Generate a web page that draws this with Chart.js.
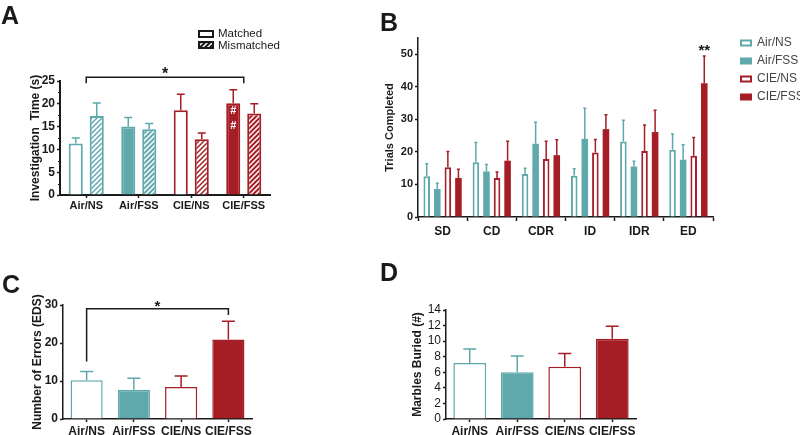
<!DOCTYPE html>
<html>
<head>
<meta charset="utf-8">
<script src="https://cdn.jsdelivr.net/npm/chart.js@4.4.0/dist/chart.umd.min.js"></script>
<style>
body { margin: 0; background: #fff; }
#wrap { position: relative; width: 800px; height: 435px; overflow: hidden; font-family: "Liberation Sans", Arial, sans-serif; }
canvas { position: absolute; left: 0; top: 0; }
.tag { position: absolute; font-weight: bold; font-size: 25px; line-height: 1; color: #1a1a1a; }
</style>
</head>
<body>
<div id="wrap">
  <canvas id="chartA" width="800" height="435"></canvas>
  <canvas id="chartB" width="800" height="435"></canvas>
  <canvas id="chartC" width="800" height="435"></canvas>
  <canvas id="chartD" width="800" height="435"></canvas>
  <div class="tag" style="left:1px;top:3px">A</div>
  <div class="tag" style="left:380px;top:10px">B</div>
  <div class="tag" style="left:2px;top:272px">C</div>
  <div class="tag" style="left:380px;top:260px">D</div>
</div>
<script>
var FONT = '"Liberation Sans", Arial, sans-serif';
var teal = '#5fa8ac';
var red = '#a51d25';

var groups = ['Air/NS', 'Air/FSS', 'CIE/NS', 'CIE/FSS'];

// A - investigation time
var matchedMean = [11.3, 15.0, 18.6, 20.1];
var matchedSem = [1.2, 2.0, 3.5, 3.0];
var mismatchedMean = [17.3, 14.4, 12.2, 17.9];
var mismatchedSem = [2.9, 1.3, 1.4, 2.1];

// B - trials completed per stage
var stages = ['SD', 'CD', 'CDR', 'ID', 'IDR', 'ED'];
var airNS = [12.5, 16.8, 13.2, 12.7, 23.2, 20.7];
var airNSSem = [3.9, 6.1, 1.8, 2.1, 6.5, 4.8];
var airFSS = [8.6, 14.0, 22.5, 24.0, 15.5, 17.6];
var airFSSSem = [1.8, 2.1, 6.6, 9.4, 1.6, 4.6];
var cieNS = [15.3, 12.0, 17.8, 19.8, 20.3, 18.8];
var cieNSSem = [4.8, 1.8, 5.5, 4.0, 8.0, 5.6];
var cieFSS = [12.0, 17.3, 19.0, 27.0, 26.1, 41.1];
var cieFSSSem = [2.7, 6.0, 4.7, 4.4, 6.7, 8.4];

// C - errors (EDS)
var errorsEDS = [10.2, 7.7, 8.4, 20.9];
var errorsSem = [2.3, 3.0, 2.9, 4.8];

// D - marbles buried
var marbles = [7.2, 6.0, 6.7, 10.3];
var marblesSem = [1.8, 2.1, 1.7, 1.6];

var groupColor = [teal, teal, red, red];
var groupFill = ['#fff', teal, '#fff', red];

function hatch(bg, fg) {
    var c = document.createElement('canvas');
    c.width = 5; c.height = 5;
    var g = c.getContext('2d');
    g.fillStyle = bg;
    g.fillRect(0, 0, 5, 5);
    g.strokeStyle = fg;
    g.lineWidth = 1.5;
    g.beginPath();
    g.moveTo(-1, 6); g.lineTo(6, -1);
    g.moveTo(-1, 1); g.lineTo(1, -1);
    g.moveTo(4, 6); g.lineTo(6, 4);
    g.stroke();
    return g.createPattern(c, 'repeat');
}
var groupHatch = [hatch('#fff', teal), hatch(teal, '#fff'), hatch('#fff', red), hatch(red, '#fff')];

var errorBars = {
    id: 'errorBars',
    afterDatasetsDraw: function(chart, args, opts) {
        var ctx = chart.ctx, y = chart.scales.y;
        chart.data.datasets.forEach(function(ds, i) {
            if (!ds.sem) return;
            chart.getDatasetMeta(i).data.forEach(function(bar, j) {
                var top = y.getPixelForValue(ds.data[j] + ds.sem[j]);
                ctx.save();
                ctx.strokeStyle = Array.isArray(ds.borderColor) ? ds.borderColor[j] : ds.borderColor;
                ctx.lineWidth = opts.width || 1.5;
                ctx.beginPath();
                ctx.moveTo(bar.x, bar.y);
                ctx.lineTo(bar.x, top);
                ctx.moveTo(bar.x - opts.cap / 2, top);
                ctx.lineTo(bar.x + opts.cap / 2, top);
                ctx.stroke();
                ctx.restore();
            });
        });
    }
};

function star(ctx, text, x, yc, size) {
    ctx.save();
    ctx.fillStyle = '#1a1a1a';
    ctx.font = 'bold ' + size + 'px ' + FONT;
    ctx.textAlign = 'center';
    ctx.textBaseline = 'alphabetic';
    ctx.fillText(text, x, yc + size * 0.55);
    ctx.restore();
}

function bracket(ctx, x0, y0, x1, y1, yt) {
    ctx.save();
    ctx.strokeStyle = '#1a1a1a';
    ctx.lineWidth = 1.5;
    ctx.beginPath();
    ctx.moveTo(x0, y0);
    ctx.lineTo(x0, yt);
    ctx.lineTo(x1, yt);
    ctx.lineTo(x1, y1);
    ctx.stroke();
    ctx.restore();
}

function axes(o) {
    return {
        x: {
            grid: { display: true, drawOnChartArea: false, offset: o.gridOffset, tickLength: o.xTick, color: '#1a1a1a', tickWidth: 1.5 },
            border: { display: true, color: '#1a1a1a', width: o.border },
            ticks: { color: '#1a1a1a', padding: o.xPad, maxRotation: 0, autoSkip: false,
                     font: { family: FONT, size: o.xFont, weight: 'bold' } },
            afterFit: function(s) { s.height = o.xH; }
        },
        y: {
            min: 0, max: o.max,
            grid: { display: true, drawOnChartArea: false, tickLength: 3, color: '#1a1a1a', tickWidth: 1.5 },
            border: { display: true, color: '#1a1a1a', width: o.border },
            ticks: { stepSize: o.step, autoSkip: false, color: '#1a1a1a', padding: 2,
                     font: { family: FONT, size: o.yFont, weight: o.yWeight || 'bold' } },
            title: { display: true, text: o.title, color: '#1a1a1a', padding: { top: 4, bottom: 4 },
                     font: { family: FONT, size: o.titleFont, weight: 'bold' } },
            afterBuildTicks: function(s) { s.ticks = s.ticks.filter(function(t) { return t.value % o.step === 0; }); },
            afterFit: function(s) { s.width = o.yW; }
        }
    };
}

var common = {
    responsive: false,
    animation: false,
    devicePixelRatio: 1,
    events: []
};

// ---------- A ----------
var annotA = {
    id: 'annotA',
    afterDraw: function(chart) {
        var ctx = chart.ctx, x = chart.scales.x, y = chart.scales.y;
        var x0 = x.getPixelForValue(0), x1 = x.getPixelForValue(3);
        bracket(ctx, x0, y.getPixelForValue(24.5), x1, y.getPixelForValue(24.5), y.getPixelForValue(25.8));
        star(ctx, '*', (x0 + x1) / 2, y.getPixelForValue(27.3), 16);

        // minor y ticks
        ctx.save();
        ctx.strokeStyle = '#1a1a1a';
        ctx.lineWidth = 1.2;
        ctx.beginPath();
        for (var v = 2.5; v < 25; v += 5) {
            var py = Math.round(y.getPixelForValue(v)) + 0.5;
            ctx.moveTo(y.right - 2, py);
            ctx.lineTo(y.right, py);
        }
        ctx.stroke();
        ctx.restore();

        var hx = chart.getDatasetMeta(0).data[3].x;
        ctx.save();
        ctx.fillStyle = '#fff';
        ctx.font = 'bold 11px ' + FONT;
        ctx.textAlign = 'center';
        ctx.textBaseline = 'middle';
        ctx.fillText('#', hx, y.getPixelForValue(18.5));
        ctx.fillText('#', hx, y.getPixelForValue(15.1));
        ctx.restore();

        // legend
        ctx.save();
        ctx.lineWidth = 2;
        ctx.strokeStyle = '#1a1a1a';
        ctx.fillStyle = '#fff';
        ctx.fillRect(199, 31, 14, 6);
        ctx.strokeRect(199, 31, 14, 6);
        ctx.fillStyle = hatch('#1a1a1a', '#fff');
        ctx.fillRect(199, 42, 14, 6);
        ctx.strokeRect(199, 42, 14, 6);
        ctx.fillStyle = '#1a1a1a';
        ctx.font = '11.5px ' + FONT;
        ctx.textBaseline = 'middle';
        ctx.fillText('Matched', 218, 34);
        ctx.fillText('Mismatched', 218, 46);
        ctx.restore();
    }
};

new Chart(document.getElementById('chartA'), {
    type: 'bar',
    data: {
        labels: groups,
        datasets: [{
            label: 'Matched',
            data: matchedMean,
            sem: matchedSem,
            backgroundColor: groupFill,
            borderColor: groupColor,
            borderWidth: 2
        }, {
            label: 'Mismatched',
            data: mismatchedMean,
            sem: mismatchedSem,
            backgroundColor: groupHatch,
            borderColor: groupColor,
            borderWidth: 2
        }]
    },
    options: Object.assign({}, common, {
        layout: { padding: { left: 24, right: 530, top: 81, bottom: 222 } },
        datasets: { bar: { categoryPercentage: 0.8, barPercentage: 0.67 } },
        scales: axes({ max: 25, step: 5, title: 'Investigation  Time (s)', yW: 36, xH: 18,
                       xTick: 3, xPad: 1, xFont: 11, yFont: 12, titleFont: 12, border: 2, gridOffset: false }),
        plugins: { legend: { display: false }, tooltip: { enabled: false },
                   errorBars: { cap: 8, width: 1.5 } }
    }),
    plugins: [errorBars, annotA]
});

// ---------- B ----------
var annotB = {
    id: 'annotB',
    afterDraw: function(chart) {
        var ctx = chart.ctx, y = chart.scales.y;
        var bx = chart.getDatasetMeta(3).data[5].x;
        star(ctx, '**', bx, y.getPixelForValue(52.4), 15);

        ctx.save();
        ctx.font = '12px ' + FONT;
        ctx.textBaseline = 'middle';
        chart.data.datasets.forEach(function(ds, i) {
            var cy = 43 + i * 18;
            ctx.fillStyle = ds.backgroundColor;
            ctx.fillRect(740, cy - 3.5, 12, 7);
            if (ds.backgroundColor === '#fff') {
                ctx.strokeStyle = ds.borderColor;
                ctx.lineWidth = 2;
                ctx.strokeRect(741, cy - 2.5, 10, 5);
            }
            ctx.fillStyle = '#444';
            ctx.fillText(ds.label, 757, cy);
        });
        ctx.restore();
    }
};

var stageSeries = [[airNS, airNSSem], [airFSS, airFSSSem], [cieNS, cieNSSem], [cieFSS, cieFSSSem]];

new Chart(document.getElementById('chartB'), {
    type: 'bar',
    data: {
        labels: stages,
        datasets: stageSeries.map(function(s, i) {
            return {
                label: groups[i],
                data: s[0],
                sem: s[1],
                backgroundColor: groupFill[i],
                borderColor: groupColor[i],
                borderWidth: groupFill[i] === '#fff' ? 2 : 0
            };
        })
    },
    options: Object.assign({}, common, {
        layout: { padding: { left: 379, right: 87, top: 38, bottom: 200 } },
        datasets: { bar: { categoryPercentage: 0.86, barPercentage: 0.62 } },
        scales: axes({ max: 55, step: 10, title: 'Trials Completed', yW: 39, xH: 18,
                       xTick: 4, xPad: 3, xFont: 12, yFont: 11, titleFont: 11, border: 1.5, gridOffset: true }),
        plugins: { legend: { display: false }, tooltip: { enabled: false },
                   errorBars: { cap: 3, width: 1.5 } }
    }),
    plugins: [errorBars, annotB]
});

// ---------- C ----------
var annotC = {
    id: 'annotC',
    afterDraw: function(chart) {
        var ctx = chart.ctx, x = chart.scales.x, y = chart.scales.y;
        var x0 = x.getPixelForValue(0), x1 = x.getPixelForValue(3);
        bracket(ctx, x0, y.getPixelForValue(15.1), x1, y.getPixelForValue(27.4), y.getPixelForValue(29.0));
        star(ctx, '*', (x0 + x1) / 2, y.getPixelForValue(30.5), 15);
    }
};

new Chart(document.getElementById('chartC'), {
    type: 'bar',
    data: {
        labels: groups,
        datasets: [{
            label: 'Number of Errors (EDS)',
            data: errorsEDS,
            sem: errorsSem,
            backgroundColor: groupFill,
            borderColor: groupColor,
            borderWidth: 1.5
        }]
    },
    options: Object.assign({}, common, {
        layout: { padding: { left: 26, right: 548, top: 305, bottom: 0 } },
        datasets: { bar: { categoryPercentage: 1, barPercentage: 0.68 } },
        scales: axes({ max: 30, step: 10, title: 'Number of Errors (EDS)', yW: 37, xH: 16,
                       xTick: 3, xPad: 2, xFont: 12, yFont: 12, titleFont: 12, border: 1.5, gridOffset: false }),
        plugins: { legend: { display: false }, tooltip: { enabled: false },
                   errorBars: { cap: 13, width: 1.5 } }
    }),
    plugins: [errorBars, annotC]
});

// ---------- D ----------
new Chart(document.getElementById('chartD'), {
    type: 'bar',
    data: {
        labels: groups,
        datasets: [{
            label: 'Marbles Buried (#)',
            data: marbles,
            sem: marblesSem,
            backgroundColor: groupFill,
            borderColor: groupColor,
            borderWidth: 1.5
        }]
    },
    options: Object.assign({}, common, {
        layout: { padding: { left: 406, right: 164, top: 310, bottom: 0 } },
        datasets: { bar: { categoryPercentage: 1, barPercentage: 0.69 } },
        scales: axes({ max: 14, step: 2, title: 'Marbles Buried (#)', yW: 40, xH: 16,
                       xTick: 3, xPad: 2, xFont: 12, yFont: 12, yWeight: 'normal', titleFont: 12, border: 1.5, gridOffset: false }),
        plugins: { legend: { display: false }, tooltip: { enabled: false },
                   errorBars: { cap: 13, width: 1.5 } }
    }),
    plugins: [errorBars]
});
</script>
</body>
</html>
